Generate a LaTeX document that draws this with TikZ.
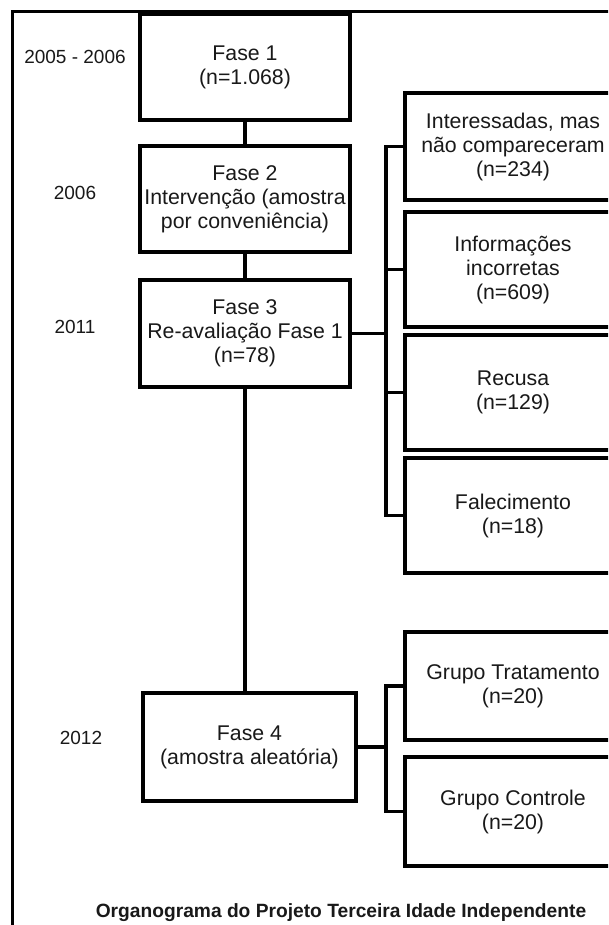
\documentclass[tikz,border=0pt]{standalone}
\usepackage{fontspec}
\setmainfont{Liberation Sans}
\begin{document}
\begin{tikzpicture}[x=1pt,y=-1pt,
  box/.style={draw, line width=3.5pt, align=center, inner sep=0pt, text=black!90,
    font=\fontsize{21.3}{24}\selectfont},
  conn/.style={line width=3.5pt},
  year/.style={font=\fontsize{19}{22}\selectfont, text=black!90}]
\useasboundingbox (0,0) rectangle (608,925);
\clip (0,0) rectangle (608,925);
\fill[white] (0,0) rectangle (608,925);
% outer frame
\draw[line width=3pt] (12,940) -- (12,12) -- (630,12);
% main column
\node[box, minimum width=210pt, minimum height=106pt] (f1) at (245,67) {Fase 1\\(n=1.068)};
\node[box, minimum width=210pt, minimum height=106pt] (f2) at (245,199) {Fase 2\\Intervenção (amostra\\por conveniência)};
\node[box, minimum width=210pt, minimum height=107pt] (f3) at (245,333.5) {Fase 3\\Re-avaliação Fase 1\\(n=78)};
\node[box, minimum width=213pt, minimum height=108pt] (f4) at (249.5,747) {Fase 4\\(amostra aleatória)};
% right column
\node[box, minimum width=216pt, minimum height=107pt] (r1) at (513,146.5) {Interessadas, mas\\não compareceram\\(n=234)};
\node[box, minimum width=216pt, minimum height=115pt] (r2) at (513,269.5) {Informações\\incorretas\\(n=609)};
\node[box, minimum width=216pt, minimum height=115pt] (r3) at (513,392.5) {Recusa\\(n=129)};
\node[box, minimum width=216pt, minimum height=115pt] (r4) at (513,515.5) {Falecimento\\(n=18)};
\node[box, minimum width=216pt, minimum height=108pt] (g1) at (513,686) {Grupo Tratamento\\(n=20)};
\node[box, minimum width=216pt, minimum height=109pt] (g2) at (513,811.5) {Grupo Controle\\(n=20)};
% years
\node[year] (y1) at (75,57) {2005 - 2006};
\node[year] (y2) at (75,193) {2006};
\node[year] (y3) at (75,327) {2011};
\node[year] (y4) at (81,738) {2012};
% title
\node[font=\fontsize{19.2}{22}\selectfont\bfseries, text=black!90] (title) at (341,913) {Organograma do Projeto Terceira Idade Independente};
% connectors
\coordinate (bx) at (386,0);
\draw[conn] (f1.south) -- (f2.north);
\draw[conn] (f2.south) -- (f3.north);
\draw[conn] (f3.south) -- (f3.south |- f4.north);
\draw[conn] (f3.east) -- (f3.east -| bx);
\draw[conn] (r1.west) -- (r1.west -| bx) -- (r4.west -| bx) -- (r4.west);
\draw[conn] (r2.west) -- (r2.west -| bx);
\draw[conn] (r3.west) -- (r3.west -| bx);
\draw[conn] (f4.east) -- (f4.east -| bx);
\draw[conn] (g1.west) -- (g1.west -| bx) -- (g2.west -| bx) -- (g2.west);
\end{tikzpicture}
\end{document}
